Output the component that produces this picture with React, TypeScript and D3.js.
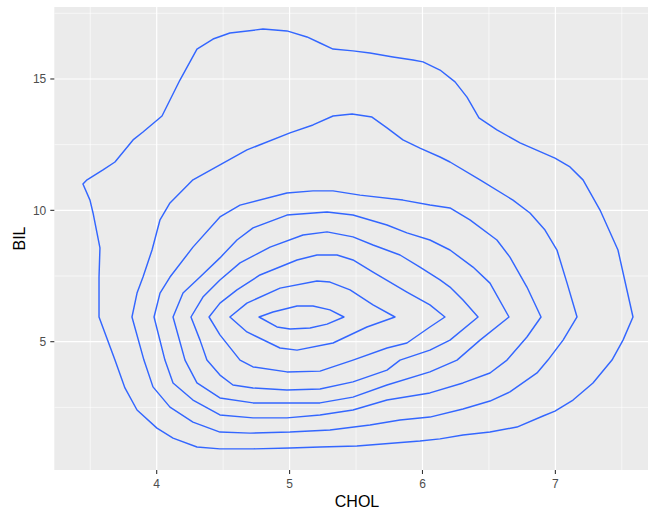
import React from "react";
import * as d3 from "d3";

type Pt = [number, number];

// Axis breaks
const xTicks = [4, 5, 6, 7];
const yTicks = [5, 10, 15];
const xMinor = [3.5, 4.5, 5.5, 6.5, 7.5];
const yMinor = [2.5, 7.5, 12.5, 17.5];

// Density contour lines of BIL against CHOL, outermost level first
const level1: Pt[] = [
  [3.445, 11.0], [3.476, 11.16], [3.596, 11.54], [3.686, 11.84], [3.822, 12.68], [3.897, 12.98],
  [4.04, 13.59], [4.175, 14.96], [4.303, 16.14], [4.424, 16.52], [4.551, 16.75], [4.8, 16.9],
  [4.98, 16.83], [5.131, 16.6], [5.229, 16.37], [5.327, 16.14], [5.477, 16.07], [5.605, 15.99],
  [5.778, 15.84], [5.929, 15.72], [6.004, 15.65], [6.132, 15.34], [6.245, 14.89], [6.335, 14.31],
  [6.425, 13.52], [6.56, 13.06], [6.734, 12.57], [6.997, 11.99], [7.11, 11.65], [7.208, 11.16],
  [7.336, 10.01], [7.471, 8.49], [7.584, 5.94], [7.509, 5.06], [7.426, 4.3], [7.283, 3.43],
  [7.133, 2.78], [6.997, 2.36], [6.907, 2.17], [6.711, 1.75], [6.508, 1.56], [6.305, 1.45],
  [6.132, 1.3], [5.981, 1.22], [5.507, 1.03], [5.229, 0.99], [5.003, 0.95], [4.725, 0.92],
  [4.476, 0.92], [4.303, 0.99], [4.123, 1.33], [4.002, 1.71], [3.852, 2.4], [3.761, 3.24],
  [3.686, 4.3], [3.566, 5.94], [3.566, 7.46], [3.573, 8.57], [3.521, 9.9], [3.498, 10.39],
];

const level2: Pt[] = [
  [3.814, 5.94], [3.852, 6.85], [3.897, 7.46], [3.965, 8.49], [4.025, 9.64], [4.1, 10.28],
  [4.273, 11.16], [4.476, 11.73], [4.679, 12.3], [5.003, 12.95], [5.176, 13.25], [5.327, 13.59],
  [5.47, 13.67], [5.62, 13.55], [5.733, 13.14], [5.853, 12.68], [5.981, 12.37], [6.132, 12.03],
  [6.207, 11.84], [6.433, 11.16], [6.681, 10.39], [6.809, 9.9], [6.922, 9.25], [7.012, 8.49],
  [7.088, 7.23], [7.163, 5.94], [7.058, 5.06], [6.944, 4.3], [6.862, 3.81], [6.658, 3.09],
  [6.508, 2.74], [6.305, 2.44], [6.056, 2.13], [5.831, 2.02], [5.605, 1.83], [5.304, 1.64],
  [5.003, 1.56], [4.702, 1.52], [4.476, 1.56], [4.273, 1.94], [4.1, 2.51], [3.972, 3.28],
  [3.904, 4.3],
];

const level3: Pt[] = [
  [3.98, 5.94], [4.025, 6.85], [4.1, 7.46], [4.273, 8.6], [4.476, 9.75], [4.627, 10.2],
  [4.98, 10.66], [5.176, 10.74], [5.327, 10.74], [5.53, 10.58], [5.853, 10.39], [6.056, 10.2],
  [6.207, 10.09], [6.357, 9.64], [6.56, 8.87], [6.658, 8.22], [6.786, 7.08], [6.892, 5.94],
  [6.786, 5.18], [6.636, 4.3], [6.508, 3.81], [6.305, 3.43], [6.056, 3.05], [5.733, 2.78],
  [5.477, 2.4], [5.229, 2.21], [4.98, 2.1], [4.725, 2.1], [4.476, 2.21], [4.273, 2.78],
  [4.123, 3.43], [4.062, 4.3],
];

const level4: Pt[] = [
  [4.123, 5.94], [4.198, 6.85], [4.326, 7.46], [4.476, 8.19], [4.604, 8.87], [4.725, 9.33],
  [4.98, 9.82], [5.282, 9.94], [5.477, 9.82], [5.733, 9.44], [5.883, 9.14], [6.056, 8.87],
  [6.207, 8.49], [6.38, 7.84], [6.508, 7.23], [6.651, 5.94], [6.433, 5.06], [6.26, 4.3],
  [6.056, 3.85], [5.733, 3.35], [5.477, 2.89], [5.229, 2.67], [4.98, 2.67], [4.725, 2.67],
  [4.476, 2.86], [4.303, 3.43], [4.213, 4.3],
];

const level5: Pt[] = [
  [4.258, 5.94], [4.348, 6.7], [4.476, 7.35], [4.627, 8.0], [4.853, 8.6], [5.101, 9.06],
  [5.282, 9.18], [5.477, 8.99], [5.628, 8.68], [5.831, 8.3], [5.981, 7.84], [6.132, 7.35],
  [6.207, 7.08], [6.305, 6.59], [6.418, 5.94], [6.207, 5.06], [6.056, 4.68], [5.831, 4.3],
  [5.733, 3.92], [5.477, 3.47], [5.229, 3.2], [4.98, 3.16], [4.725, 3.24], [4.574, 3.35],
  [4.476, 3.73], [4.378, 4.3], [4.326, 5.06],
];

const level6: Pt[] = [
  [4.394, 5.94], [4.476, 6.47], [4.604, 6.97], [4.777, 7.54], [5.056, 8.11], [5.206, 8.3],
  [5.357, 8.3], [5.477, 8.11], [5.628, 7.65], [5.883, 6.89], [6.056, 6.4], [6.169, 5.94],
  [6.056, 5.56], [5.883, 4.95], [5.733, 4.76], [5.477, 4.3], [5.229, 3.88], [4.98, 3.85],
  [4.725, 4.04], [4.627, 4.3], [4.476, 5.26],
];

const level7: Pt[] = [
  [4.551, 5.94], [4.679, 6.47], [4.928, 7.04], [5.206, 7.31], [5.304, 7.27], [5.455, 6.97],
  [5.628, 6.4], [5.793, 5.94], [5.582, 5.56], [5.327, 4.95], [5.056, 4.68], [4.928, 4.76],
  [4.679, 5.37],
];

const level8: Pt[] = [
  [4.77, 5.94], [4.875, 6.13], [5.056, 6.36], [5.176, 6.36], [5.304, 6.21], [5.409, 5.94],
  [5.282, 5.67], [5.154, 5.52], [5.003, 5.48], [4.905, 5.56],
];

const levels = [level1, level2, level3, level4, level5, level6, level7, level8];

const W = 649;
const H = 510;
const panel = { left: 54.3, right: 648, top: 7, bottom: 470 };

export default function App() {
  const x = d3.scaleLinear().domain([3.2295, 7.697]).range([panel.left, panel.right]);
  const y = d3.scaleLinear().domain([0.116, 17.74]).range([panel.bottom, panel.top]);

  const line = d3
    .line<Pt>()
    .x((d) => x(d[0]))
    .y((d) => y(d[1]))
    .curve(d3.curveLinearClosed);

  const font = "'Liberation Sans', Arial, sans-serif";

  return (
    <svg
      width={W}
      height={H}
      style={{ position: "absolute", left: 0, top: 0, background: "#fff" }}
      fontFamily={font}
    >
      <defs>
        <clipPath id="panel-clip">
          <rect x={panel.left} y={panel.top} width={panel.right - panel.left} height={panel.bottom - panel.top} />
        </clipPath>
      </defs>
      <rect
        x={panel.left}
        y={panel.top}
        width={panel.right - panel.left}
        height={panel.bottom - panel.top}
        fill="#EBEBEB"
      />
      <g clipPath="url(#panel-clip)">
        {xMinor.map((v) => (
          <line key={"xm" + v} x1={x(v)} x2={x(v)} y1={panel.top} y2={panel.bottom} stroke="#fff" strokeWidth={0.6} />
        ))}
        {yMinor.map((v) => (
          <line key={"ym" + v} y1={y(v)} y2={y(v)} x1={panel.left} x2={panel.right} stroke="#fff" strokeWidth={0.6} />
        ))}
        {xTicks.map((v) => (
          <line key={"xM" + v} x1={x(v)} x2={x(v)} y1={panel.top} y2={panel.bottom} stroke="#fff" strokeWidth={1.2} />
        ))}
        {yTicks.map((v) => (
          <line key={"yM" + v} y1={y(v)} y2={y(v)} x1={panel.left} x2={panel.right} stroke="#fff" strokeWidth={1.2} />
        ))}
        {levels.map((pts, i) => (
          <path key={"c" + i} d={line(pts) ?? ""} fill="none" stroke="#3366FF" strokeWidth={1.45} strokeLinejoin="round" />
        ))}
      </g>
      {xTicks.map((v) => (
        <g key={"xt" + v}>
          <line x1={x(v)} x2={x(v)} y1={panel.bottom} y2={panel.bottom + 4} stroke="#333" strokeWidth={1.1} />
          <text x={x(v)} y={panel.bottom + 18} textAnchor="middle" fontSize={12} fill="#4D4D4D">
            {v}
          </text>
        </g>
      ))}
      {yTicks.map((v) => (
        <g key={"yt" + v}>
          <line x1={panel.left - 4} x2={panel.left} y1={y(v)} y2={y(v)} stroke="#333" strokeWidth={1.1} />
          <text x={panel.left - 8} y={y(v) + 4.3} textAnchor="end" fontSize={12} fill="#4D4D4D">
            {v}
          </text>
        </g>
      ))}
      <text x={357} y={507} textAnchor="middle" fontSize={16} fill="#000">
        CHOL
      </text>
      <text
        transform={`translate(25, ${(panel.top + panel.bottom) / 2}) rotate(-90)`}
        textAnchor="middle"
        fontSize={16}
        fill="#000"
      >
        BIL
      </text>
    </svg>
  );
}
